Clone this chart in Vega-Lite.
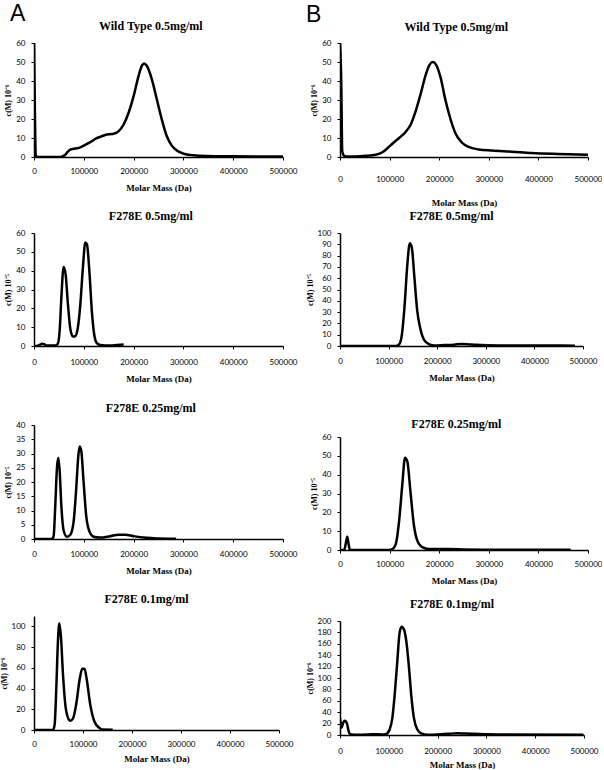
{
  "$schema": "https://vega.github.io/schema/vega-lite/v6.json",
  "padding": {"left": 0, "top": 3, "right": 0, "bottom": 0},
  "background": "white",
  "datasets": {
    "A1": [{"M":0,"c":60},{"M":2000,"c":20},{"M":3500,"c":1},{"M":6000,"c":0},{"M":50000,"c":0},{"M":57000,"c":0.3},{"M":63000,"c":1.2},{"M":68000,"c":2.8},{"M":73000,"c":3.9},{"M":80000,"c":4.3},{"M":86000,"c":4.6},{"M":93000,"c":5.1},{"M":100000,"c":6},{"M":113000,"c":7.8},{"M":126000,"c":9.9},{"M":136000,"c":10.9},{"M":146000,"c":11.8},{"M":153000,"c":12},{"M":160000,"c":12.2},{"M":170000,"c":13.6},{"M":180000,"c":17.1},{"M":190000,"c":23.3},{"M":200000,"c":32},{"M":210000,"c":42.7},{"M":216500,"c":48},{"M":221000,"c":49.2},{"M":226500,"c":48},{"M":236500,"c":41},{"M":246600,"c":30.4},{"M":256600,"c":19.8},{"M":266700,"c":10.9},{"M":276700,"c":6},{"M":286700,"c":3.4},{"M":300000,"c":1.8},{"M":320000,"c":0.9},{"M":347000,"c":0.5},{"M":400000,"c":0.35},{"M":500000,"c":0.2}],
    "B1": [{"M":0,"c":60},{"M":2500,"c":40},{"M":4500,"c":3},{"M":7000,"c":1},{"M":12000,"c":0.3},{"M":30000,"c":0.3},{"M":52000,"c":0.6},{"M":72000,"c":1.2},{"M":85500,"c":2.5},{"M":95600,"c":4.6},{"M":105600,"c":7},{"M":119000,"c":10},{"M":132300,"c":13.2},{"M":142400,"c":17},{"M":152400,"c":24},{"M":162400,"c":33},{"M":172500,"c":43},{"M":180500,"c":48.5},{"M":187200,"c":50},{"M":193900,"c":48.5},{"M":202600,"c":42},{"M":212600,"c":30},{"M":222700,"c":20},{"M":232700,"c":12.5},{"M":246100,"c":7.5},{"M":259400,"c":5.3},{"M":279500,"c":4},{"M":306200,"c":3.4},{"M":346300,"c":2.8},{"M":386400,"c":2.1},{"M":439800,"c":1.6},{"M":500000,"c":1.2}],
    "A2": [{"M":0,"c":0},{"M":8000,"c":0.2},{"M":13000,"c":0.8},{"M":16000,"c":1.2},{"M":20000,"c":1},{"M":26000,"c":0.3},{"M":42800,"c":0.3},{"M":47500,"c":1},{"M":51500,"c":8},{"M":54800,"c":25},{"M":59500,"c":42},{"M":63500,"c":38},{"M":68200,"c":22},{"M":73000,"c":9},{"M":78200,"c":5},{"M":83000,"c":5.3},{"M":87600,"c":9},{"M":93000,"c":22},{"M":98300,"c":42},{"M":103000,"c":55},{"M":106300,"c":54},{"M":111600,"c":38},{"M":116300,"c":18},{"M":121000,"c":6},{"M":126300,"c":1.5},{"M":133000,"c":0.5},{"M":153000,"c":0.2},{"M":166400,"c":0.5},{"M":180000,"c":0.8}],
    "B2": [{"M":0,"c":0},{"M":115700,"c":0},{"M":122600,"c":2},{"M":127300,"c":10},{"M":132800,"c":35},{"M":138200,"c":70},{"M":143700,"c":91},{"M":147800,"c":87},{"M":153200,"c":60},{"M":158700,"c":32},{"M":165500,"c":15},{"M":173600,"c":5},{"M":183900,"c":1.5},{"M":194000,"c":0.5},{"M":214500,"c":0.8},{"M":235000,"c":1.2},{"M":248600,"c":1.8},{"M":262200,"c":1.6},{"M":279200,"c":1},{"M":303000,"c":0.6},{"M":350700,"c":0.4},{"M":418800,"c":0.4},{"M":483500,"c":0.3}],
    "A3": [{"M":0,"c":0},{"M":36100,"c":0},{"M":39400,"c":1},{"M":42800,"c":12},{"M":46100,"c":25},{"M":48800,"c":28.5},{"M":51500,"c":24},{"M":54800,"c":12},{"M":59500,"c":3},{"M":66200,"c":0.8},{"M":72900,"c":1.5},{"M":79500,"c":6},{"M":84900,"c":18},{"M":88900,"c":29},{"M":91600,"c":32.5},{"M":94900,"c":31},{"M":99600,"c":20},{"M":104900,"c":8},{"M":111600,"c":2.5},{"M":119600,"c":0.8},{"M":133000,"c":0.5},{"M":153000,"c":1},{"M":169800,"c":1.5},{"M":183100,"c":1.5},{"M":199900,"c":1},{"M":220000,"c":0.5},{"M":240000,"c":0.3},{"M":285000,"c":0.1}],
    "B3": [{"M":0,"c":0},{"M":8700,"c":0},{"M":12000,"c":4},{"M":14700,"c":7},{"M":17400,"c":3},{"M":20000,"c":0},{"M":98900,"c":0},{"M":105600,"c":0.5},{"M":112300,"c":3},{"M":119000,"c":15},{"M":125700,"c":35},{"M":131000,"c":49},{"M":135700,"c":47},{"M":142400,"c":30},{"M":149100,"c":13},{"M":155800,"c":5},{"M":165800,"c":1.5},{"M":179100,"c":0.5},{"M":219200,"c":0.5},{"M":249300,"c":0.3},{"M":319500,"c":0.1},{"M":465000,"c":0.1}],
    "A4": [{"M":0,"c":0},{"M":38700,"c":0},{"M":42100,"c":5},{"M":45500,"c":40},{"M":48800,"c":85},{"M":51600,"c":103},{"M":55000,"c":90},{"M":59000,"c":55},{"M":63800,"c":25},{"M":69200,"c":12},{"M":73900,"c":9},{"M":79400,"c":11},{"M":86200,"c":25},{"M":92900,"c":48},{"M":98400,"c":59},{"M":103100,"c":59},{"M":107900,"c":48},{"M":114600,"c":25},{"M":123500,"c":8},{"M":133600,"c":2},{"M":140400,"c":0.5},{"M":160800,"c":0.3}],
    "B4": [{"M":0,"c":30},{"M":3000,"c":13},{"M":6800,"c":22},{"M":10200,"c":25},{"M":14300,"c":20},{"M":18300,"c":5},{"M":22400,"c":1},{"M":40000,"c":0.5},{"M":57700,"c":1},{"M":71300,"c":1.5},{"M":84900,"c":1},{"M":95100,"c":2},{"M":101900,"c":10},{"M":107300,"c":30},{"M":112000,"c":70},{"M":117500,"c":130},{"M":122200,"c":180},{"M":126300,"c":190},{"M":131100,"c":185},{"M":135800,"c":165},{"M":141200,"c":120},{"M":146000,"c":70},{"M":151400,"c":30},{"M":158200,"c":10},{"M":166400,"c":3},{"M":180000,"c":0.5},{"M":200300,"c":1},{"M":220700,"c":2},{"M":241000,"c":3},{"M":254600,"c":2.5},{"M":275000,"c":2},{"M":302200,"c":1.2},{"M":349700,"c":0.8},{"M":499000,"c":0.5}]
  },
  "hconcat": [
    {
      "title": {"text": "A", "anchor": "start", "font": "Liberation Sans", "fontSize": 23, "fontWeight": "normal", "offset": -6, "dx": 10},
      "align": "none",
      "spacing": 18,
      "vconcat": [
        {
          "title": {"text": "Wild Type 0.5mg/ml", "offset": 6},
          "width": 249, "height": 114,
          "data": {"name": "A1"},
          "mark": {"type": "line", "interpolate": "monotone", "color": "black", "strokeWidth": 2.5, "clip": true},
          "encoding": {
            "x": {"field": "M", "type": "quantitative", "scale": {"domain": [0, 500000], "nice": false}, "axis": {"title": "Molar Mass (Da)", "values": [0, 100000, 200000, 300000, 400000, 500000], "format": "d", "labelPadding": 7}},
            "y": {"field": "c", "type": "quantitative", "scale": {"domain": [0, 60], "nice": false}, "axis": {"title": "c(M) 10⁻⁶", "values": [0, 10, 20, 30, 40, 50, 60]}}
          }
        },
        {
          "align": "none",
          "spacing": 19,
          "vconcat": [
            {
              "title": {"text": "F278E 0.5mg/ml", "offset": 6},
              "width": 249, "height": 113,
              "data": {"name": "A2"},
              "mark": {"type": "line", "interpolate": "monotone", "color": "black", "strokeWidth": 2.5, "clip": true},
              "encoding": {
                "x": {"field": "M", "type": "quantitative", "scale": {"domain": [0, 500000], "nice": false}, "axis": {"title": "Molar Mass (Da)", "values": [0, 100000, 200000, 300000, 400000, 500000], "format": "d", "labelPadding": 9}},
                "y": {"field": "c", "type": "quantitative", "scale": {"domain": [0, 60], "nice": false}, "axis": {"title": "c(M) 10⁻⁵", "values": [0, 10, 20, 30, 40, 50, 60]}}
              }
            },
            {
              "title": {"text": "F278E 0.25mg/ml", "offset": 6},
              "width": 249, "height": 114,
              "data": {"name": "A3"},
              "mark": {"type": "line", "interpolate": "monotone", "color": "black", "strokeWidth": 2.5, "clip": true},
              "encoding": {
                "x": {"field": "M", "type": "quantitative", "scale": {"domain": [0, 500000], "nice": false}, "axis": {"title": "Molar Mass (Da)", "values": [0, 100000, 200000, 300000, 400000, 500000], "format": "d", "labelPadding": 8}},
                "y": {"field": "c", "type": "quantitative", "scale": {"domain": [0, 40], "nice": false}, "axis": {"title": "c(M) 10⁻⁵", "values": [0, 5, 10, 15, 20, 25, 30, 35, 40]}}
              }
            }
          ]
        },
        {
          "title": {"text": "F278E 0.1mg/ml", "offset": 10},
          "width": 245, "height": 114,
          "data": {"name": "A4"},
          "mark": {"type": "line", "interpolate": "monotone", "color": "black", "strokeWidth": 2.5, "clip": true},
          "encoding": {
            "x": {"field": "M", "type": "quantitative", "scale": {"domain": [0, 500000], "nice": false}, "axis": {"title": "Molar Mass (Da)", "values": [0, 100000, 200000, 300000, 400000, 500000], "format": "d", "labelPadding": 7, "titlePadding": 6}},
            "y": {"field": "c", "type": "quantitative", "scale": {"domain": [0, 110], "nice": false}, "axis": {"title": "c(M) 10⁻⁶", "values": [0, 20, 40, 60, 80, 100]}}
          }
        }
      ]
    },
    {
      "title": {"text": "B", "anchor": "start", "font": "Liberation Sans", "fontSize": 23, "fontWeight": "normal", "offset": -6},
      "align": "none",
      "spacing": 36,
      "vconcat": [
        {
          "align": "none",
          "spacing": 3,
          "vconcat": [
            {
              "title": {"text": "Wild Type 0.5mg/ml", "offset": 5},
              "width": 248, "height": 114,
              "data": {"name": "B1"},
              "mark": {"type": "line", "interpolate": "monotone", "color": "black", "strokeWidth": 2.5, "clip": true},
              "encoding": {
                "x": {"field": "M", "type": "quantitative", "scale": {"domain": [0, 500000], "nice": false}, "axis": {"title": "Molar Mass (Da)", "values": [0, 100000, 200000, 300000, 400000, 500000], "format": "d", "labelPadding": 15, "titlePadding": 15}},
                "y": {"field": "c", "type": "quantitative", "scale": {"domain": [0, 60], "nice": false}, "axis": {"title": "c(M) 10⁻⁶", "values": [0, 10, 20, 30, 40, 50, 60]}}
              }
            },
            {
              "title": {"text": "F278E 0.5mg/ml", "offset": 6},
              "width": 243, "height": 113,
              "data": {"name": "B2"},
              "mark": {"type": "line", "interpolate": "monotone", "color": "black", "strokeWidth": 2.5, "clip": true},
              "encoding": {
                "x": {"field": "M", "type": "quantitative", "scale": {"domain": [0, 500000], "nice": false}, "axis": {"title": "Molar Mass (Da)", "values": [0, 100000, 200000, 300000, 400000, 500000], "format": "d", "labelPadding": 8}},
                "y": {"field": "c", "type": "quantitative", "scale": {"domain": [0, 100], "nice": false}, "axis": {"title": "c(M) 10⁻⁵", "values": [0, 10, 20, 30, 40, 50, 60, 70, 80, 90, 100]}}
              }
            }
          ]
        },
        {
          "align": "none",
          "spacing": 13,
          "vconcat": [
            {
              "title": {"text": "F278E 0.25mg/ml", "offset": 2},
              "width": 248, "height": 113,
              "data": {"name": "B3"},
              "mark": {"type": "line", "interpolate": "monotone", "color": "black", "strokeWidth": 2.5, "clip": true},
              "encoding": {
                "x": {"field": "M", "type": "quantitative", "scale": {"domain": [0, 500000], "nice": false}, "axis": {"title": "Molar Mass (Da)", "values": [0, 100000, 200000, 300000, 400000, 500000], "format": "d", "labelPadding": 7}},
                "y": {"field": "c", "type": "quantitative", "scale": {"domain": [0, 60], "nice": false}, "axis": {"title": "c(M) 10⁻⁵", "values": [0, 10, 20, 30, 40, 50, 60]}}
              }
            },
            {
              "title": {"text": "F278E 0.1mg/ml", "offset": 6},
              "width": 244, "height": 114,
              "data": {"name": "B4"},
              "mark": {"type": "line", "interpolate": "monotone", "color": "black", "strokeWidth": 2.5, "clip": true},
              "encoding": {
                "x": {"field": "M", "type": "quantitative", "scale": {"domain": [0, 500000], "nice": false}, "axis": {"title": "Molar Mass (Da)", "values": [0, 100000, 200000, 300000, 400000, 500000], "format": "d", "labelPadding": 9, "titlePadding": 5}},
                "y": {"field": "c", "type": "quantitative", "scale": {"domain": [0, 200], "nice": false}, "axis": {"title": "c(M) 10⁻⁶", "values": [0, 20, 40, 60, 80, 100, 120, 140, 160, 180, 200]}}
              }
            }
          ]
        }
      ]
    }
  ],
  "spacing": 9,
  "config": {
    "view": {"stroke": null},
    "axis": {"grid": false, "domainColor": "black", "domainWidth": 1.5, "tickColor": "black", "tickSize": 3, "labelFont": "Lato", "labelFontSize": 8, "labelColor": "black", "titleFont": "Liberation Serif", "titleFontSize": 9, "titleFontWeight": "bold", "titleColor": "black"},
    "axisX": {"titlePadding": 8, "labelFlush": false, "labelOverlap": false},
    "axisY": {"labelPadding": 6, "titlePadding": 3, "titleFontSize": 8},
    "title": {"font": "Liberation Serif", "fontSize": 12, "fontWeight": "bold", "color": "black", "anchor": "middle", "frame": "bounds"}
  }
}
